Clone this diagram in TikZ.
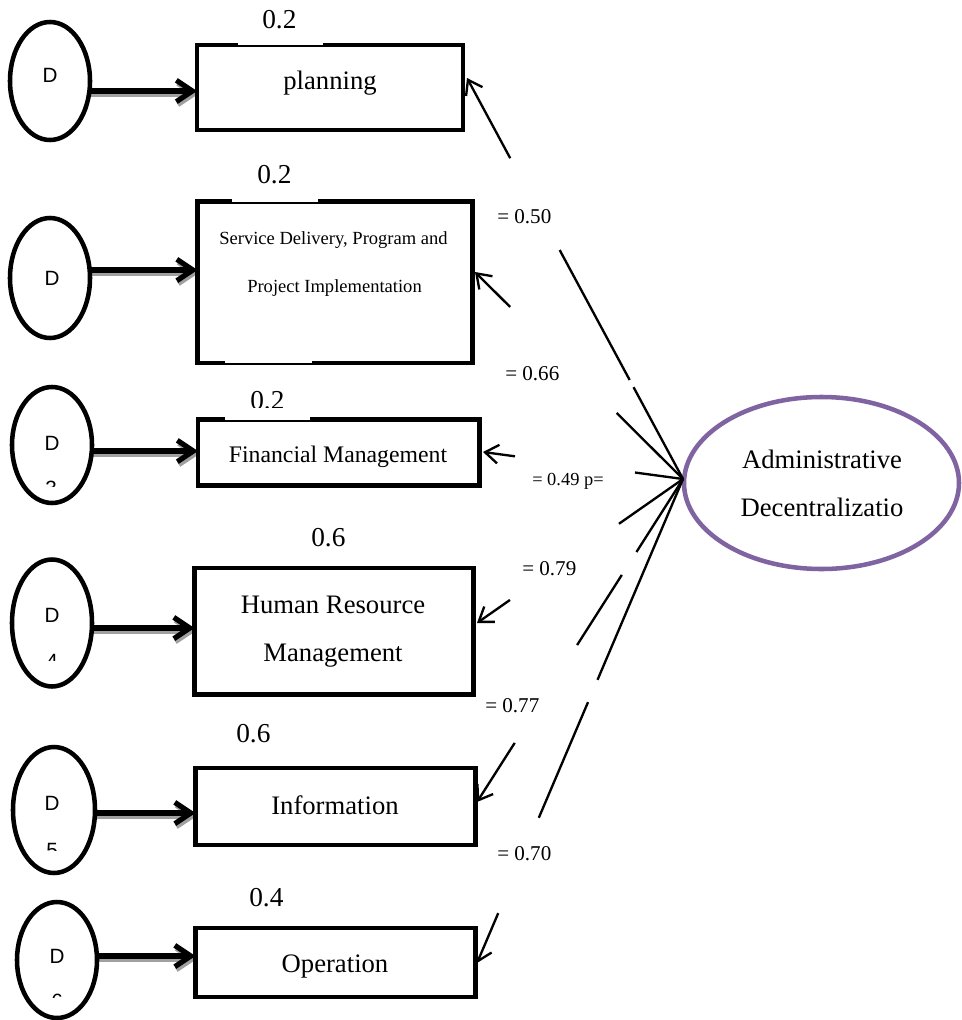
\documentclass[tikz,border=0pt]{standalone}
\usepackage{fontspec}
\setmainfont{Liberation Serif}
\newfontfamily\sansD{Liberation Sans}
\usetikzlibrary{shapes.geometric,arrows.meta,calc,backgrounds}
\definecolor{adpurple}{HTML}{8064A2}
\definecolor{shadowgray}{HTML}{A0A0A0}
\newcommand\fsz[1]{\fontsize{#1}{#1}\selectfont}
\begin{document}
\begin{tikzpicture}[x=0.75pt,y=-0.75pt,
  dell/.style={draw, ellipse, line width=3.4pt, inner sep=0pt, outer sep=0pt},
  mbox/.style={draw, rectangle, line width=3.5pt, inner sep=0pt, outer sep=0pt},
  dlabel/.style={font=\sansD\fsz{15.5}, inner sep=0pt, anchor=base},
  btext/.style={font=\fsz{20}, inner sep=0pt, anchor=base},
  load/.style={font=\fsz{20.5}, inner sep=0pt, anchor=base west},
  coef/.style={font=\fsz{15.8}, inner sep=0pt, anchor=base west},
  darr/.style={line width=3.9pt, -{Straight Barb[length=12pt,width=16pt]}},
  dshadow/.style={darr, draw=shadowgray, transform canvas={xshift=1.1pt,yshift=-2.2pt}},
  conn/.style={line width=1.75pt},
  connarr/.style={conn, -{Straight Barb[length=10pt,width=14pt]}},
  gapfill/.style={fill=white, draw=none}
]
\useasboundingbox (0,0) rectangle (961,1020);

% error ellipses
\node[dell, minimum width=60pt, minimum height=88.5pt] (D1) at (50,81) {};
\node[dell, minimum width=60pt, minimum height=90pt] (D2) at (50,278) {};
\node[dell, minimum width=60pt, minimum height=87pt] (D3) at (52,445) {};
\node[dell, minimum width=60pt, minimum height=95.25pt] (D4) at (52,623) {};
\node[dell, minimum width=61.5pt, minimum height=94.5pt] (D5) at (54,810) {};
\node[dell, minimum width=60pt, minimum height=87pt] (D6) at (57,960) {};

\node[dlabel] (L1) at (50,83) {D};
\node[dlabel] (L2) at (52,285) {D};
\node[dlabel] (L3) at (52,450) {D};
\node[dlabel] (L4) at (52,622) {D};
\node[dlabel] (L5) at (52,810) {D};
\node[dlabel] (L6) at (57,963) {D};

\begin{scope}
\clip (0,480) rectangle (120,486.5);
\node[dlabel] (N3) at (51,495) {3};
\end{scope}
\begin{scope}
\clip (0,653) rectangle (120,660);
\node[dlabel] (N4) at (52,668) {4};
\end{scope}
\begin{scope}
\clip (0,842) rectangle (120,850);
\node[dlabel] (N5) at (52,857) {5};
\end{scope}
\begin{scope}
\clip (0,993) rectangle (120,997.5);
\node[dlabel] (N6) at (57,1008) {6};
\end{scope}

% indicator boxes
\node[mbox, minimum width=199.5pt, minimum height=63.75pt] (B1) at (330,87.5) {};
\node[mbox, minimum width=206.25pt, minimum height=121.125pt] (B2) at (335,282.25) {};
\node[mbox, minimum width=211.125pt, minimum height=49.5pt] (B3) at (338.75,452.5) {};
\node[mbox, minimum width=209.25pt, minimum height=94.875pt] (B4) at (334,631.25) {};
\node[mbox, minimum width=210pt, minimum height=57.75pt] (B5) at (335.5,806.5) {};
\node[mbox, minimum width=210pt, minimum height=51.75pt] (B6) at (335.5,962.5) {};

% white label boxes cutting the borders
\fill[gapfill] (238,40) rectangle (323,45.2);
\fill[gapfill] (232,196) rectangle (318,201.5);
\fill[gapfill] (225,357) rectangle (312,362.5);
\fill[gapfill] (225,414) rectangle (310,419.5);

% box texts
\node[btext] (t1) at (330,90) {planning};
\node[btext, font=\fsz{13.9}] (t2a) at (333.5,244) {Service Delivery, Program and};
\node[btext, font=\fsz{13.9}] (t2b) at (334.5,292) {Project Implementation};
\node[btext, font=\fsz{17.8}] (t3) at (338,462.5) {Financial Management};
\node[btext] (t4a) at (333,613) {Human Resource};
\node[btext] (t4b) at (333,661) {Management};
\node[btext] (t5) at (335,814) {Information};
\node[btext] (t6) at (335,972) {Operation};

% loadings above boxes
\node[load] (v1) at (262,29) {0.2};
\node[load] (v2) at (257,183) {0.2};
\begin{scope}
\clip (200,380) rectangle (330,407.5);
\node[load] (v3) at (250,409.5) {0.2};
\end{scope}
\node[load] (v4) at (311,546) {0.6};
\node[load] (v5) at (236,742) {0.6};
\node[load] (v6) at (249,906) {0.4};

% latent construct
\node[draw=adpurple, ellipse, line width=3.4pt, minimum width=206.25pt, minimum height=129pt, inner sep=0pt, outer sep=0pt] (A) at (821.5,483) {};
\node[btext] (a1) at (822,468) {Administrative};
\node[btext] (a2) at (822,516) {Decentralizatio};

% coefficients
\node[coef] (c1) at (497,223) {= 0.50};
\node[coef] (c2) at (505,380) {= 0.66};
\node[coef, font=\fsz{13.8}] (c3) at (532,485.5) {= 0.49 p=};
\node[coef] (c4) at (522,575) {= 0.79};
\node[coef] (c5) at (485,712) {= 0.77};
\node[coef] (c6) at (497,860) {= 0.70};

% error arrows
\coordinate (y1) at (0,91);
\coordinate (y2) at (0,270);
\coordinate (y3) at (0,451);
\coordinate (y4) at (0,628);
\coordinate (y5) at (0,813);
\coordinate (y6) at (0,956);
\begin{pgfonlayer}{background}
\draw[dshadow] (D1.east |- y1) -- (B1.west |- y1);
\draw[dshadow] (D2.east |- y2) -- (B2.west |- y2);
\draw[dshadow] (D3.east |- y3) -- (B3.west |- y3);
\draw[dshadow] (D4.east |- y4) -- (B4.west |- y4);
\draw[dshadow] (D5.east |- y5) -- (B5.west |- y5);
\draw[dshadow] (D6.east |- y6) -- (B6.west |- y6);
\end{pgfonlayer}
\draw[darr] (D1.east |- y1) -- (B1.west |- y1);
\draw[darr] (D2.east |- y2) -- (B2.west |- y2);
\draw[darr] (D3.east |- y3) -- (B3.west |- y3);
\draw[darr] (D4.east |- y4) -- (B4.west |- y4);
\draw[darr] (D5.east |- y5) -- (B5.west |- y5);
\draw[darr] (D6.east |- y6) -- (B6.west |- y6);

% loading paths from the construct
\coordinate (A0) at ($(A.west)+(-1,-4)$);
\coordinate (T1) at ($(B1.east)+(4,-9.5)$);
\coordinate (T2) at ($(B2.east)+(2.5,-10.25)$);
\coordinate (T3) at ($(B3.east)+(3.5,-0.5)$);
\coordinate (T4) at ($(B4.east)+(3.5,-8.25)$);
\coordinate (T5) at ($(B5.east)+(1.5,-4.5)$);
\coordinate (T6) at ($(B6.east)+(1.5,0.5)$);

\draw[conn] (A0) -- ($(A0)!0.229!(T1)$);
\draw[conn] ($(A0)!0.247!(T1)$) -- ($(A0)!0.571!(T1)$);
\draw[connarr] ($(A0)!0.800!(T1)$) -- (T1);

\draw[conn] (A0) -- ($(A0)!0.319!(T2)$);
\draw[connarr] ($(A0)!0.831!(T2)$) -- (T2);

\draw[conn] (A0) -- ($(A0)!0.24!(T3)$);
\draw[connarr] ($(A0)!0.84!(T3)$) -- (T3);

\draw[conn] (A0) -- ($(A0)!0.311!(T4)$);
\draw[connarr] ($(A0)!0.84!(T4)$) -- (T4);

\draw[conn] (A0) -- ($(A0)!0.226!(T5)$);
\draw[conn] ($(A0)!0.297!(T5)$) -- ($(A0)!0.514!(T5)$);
\draw[connarr] ($(A0)!0.817!(T5)$) -- (T5);

\draw[conn] (A0) -- ($(A0)!0.415!(T6)$);
\draw[conn] ($(A0)!0.461!(T6)$) -- ($(A0)!0.700!(T6)$);
\draw[connarr] ($(A0)!0.897!(T6)$) -- (T6);
\end{tikzpicture}
\end{document}
